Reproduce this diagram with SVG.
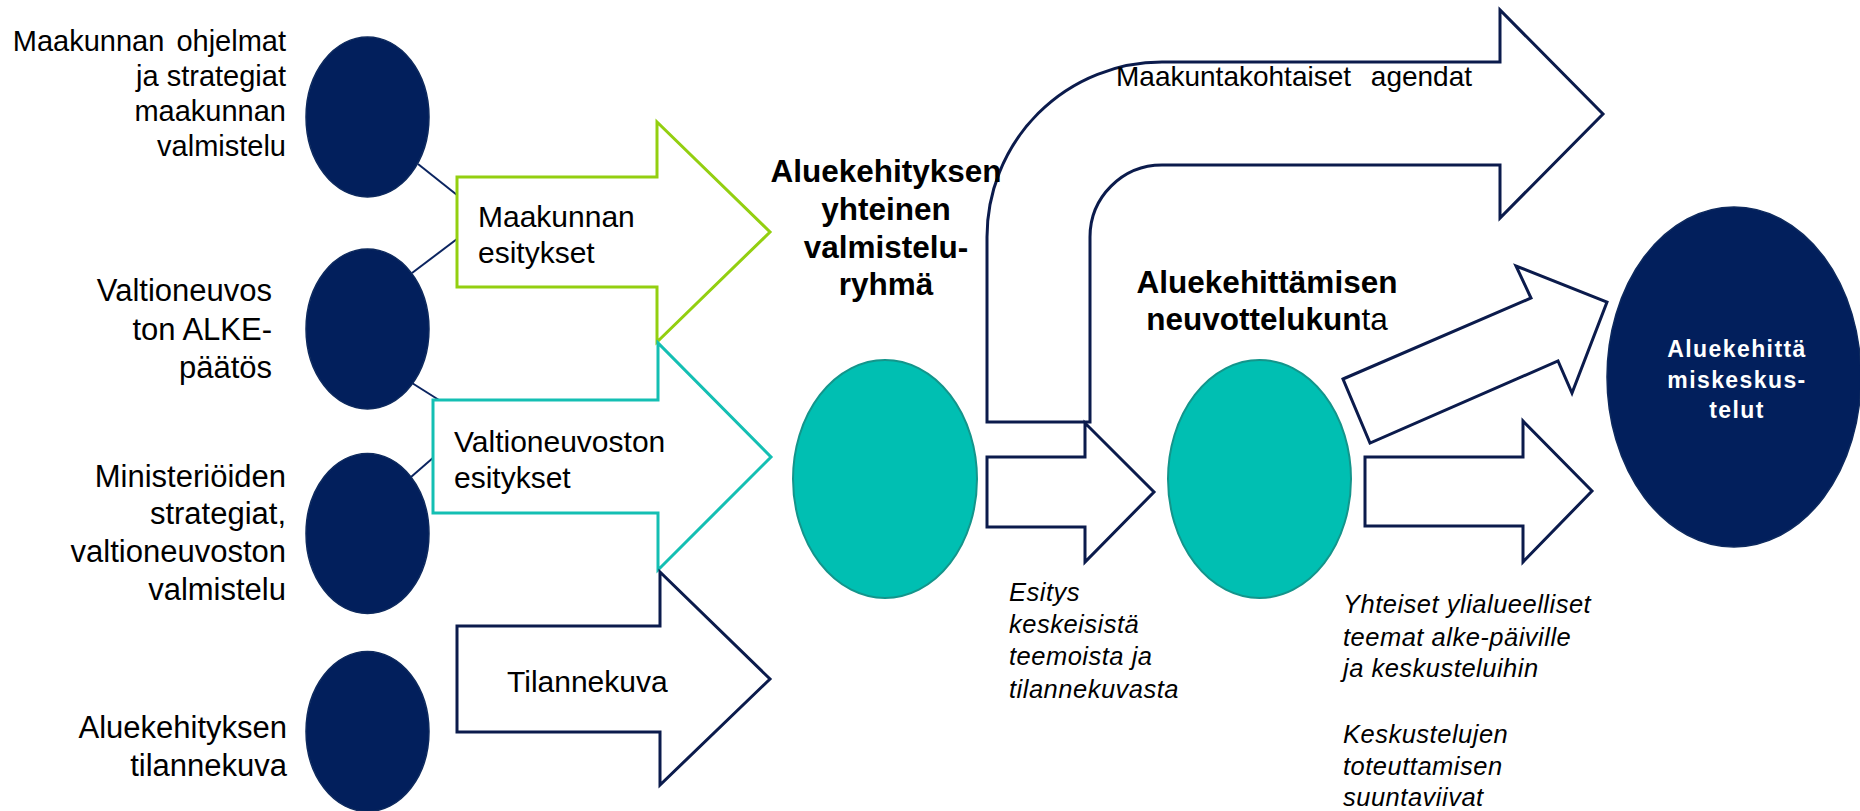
<svg xmlns="http://www.w3.org/2000/svg" width="1860" height="811" viewBox="0 0 1860 811">
<style>
text{font-family:"Liberation Sans",Arial,sans-serif;fill:#000}
.lt{font-size:31px;text-anchor:end}
.at{font-size:30px}
.bd{font-size:31.5px;font-weight:bold;text-anchor:middle}
.it{font-size:25.5px;font-style:italic;letter-spacing:0.5px}
.wt{font-size:23px;font-weight:bold;fill:#fff;text-anchor:middle;letter-spacing:1.4px}
.nv{fill:#021f5c;stroke:#0e2a5e;stroke-width:1.5}
.tl{fill:#00bfb2;stroke:#13958b;stroke-width:2}
.ar{fill:#fff;stroke-width:3;stroke-linejoin:miter}
.an{stroke:#0b1b4c}
.ln{stroke:#0b2460;stroke-width:2;fill:none}
</style>
<g id="connectors">
<line class="ln" x1="418" y1="164" x2="457" y2="195"/>
<line class="ln" x1="412" y1="273" x2="457" y2="239"/>
<line class="ln" x1="412" y1="383" x2="458" y2="412"/>
<line class="ln" x1="411" y1="477" x2="434" y2="457"/>
</g>
<g id="arrow-maakunnan">
<polygon class="ar" stroke="#93cf10" points="457,177 657,177 657,122 770,232 657,342 657,287 457,287"/>
<text class="at" x="478" y="227">Maakunnan</text>
<text class="at" x="478" y="263">esitykset</text>
</g>
<g id="arrow-valtioneuvoston">
<polygon class="ar" stroke="#14bfb3" points="433,400 658,400 658,343 771,457 658,570 658,513 433,513"/>
<text class="at" x="454" y="452">Valtioneuvoston</text>
<text class="at" x="454" y="488">esitykset</text>
</g>
<g id="arrow-tilannekuva">
<polygon class="ar an" points="457,626 660,626 660,572 770,679 660,785 660,732 457,732"/>
<text class="at" x="507" y="692">Tilannekuva</text>
</g>
<g id="n1">
<ellipse class="nv" cx="367.5" cy="117" rx="61.5" ry="80"/>
<text style="font-size:29px;text-anchor:end" x="286" y="51" word-spacing="4">Maakunnan ohjelmat</text>
<text style="font-size:29px;text-anchor:end" x="286" y="86">ja strategiat</text>
<text style="font-size:29px;text-anchor:end" x="286" y="121">maakunnan</text>
<text style="font-size:29px;text-anchor:end" x="286" y="156">valmistelu</text>
</g>
<g id="n2">
<ellipse class="nv" cx="367.5" cy="329" rx="61.5" ry="80"/>
<text class="lt" x="272" y="301">Valtioneuvos</text>
<text class="lt" x="272" y="340">ton ALKE-</text>
<text class="lt" x="272" y="378">päätös</text>
</g>
<g id="n3">
<ellipse class="nv" cx="367.5" cy="533.5" rx="61.5" ry="80"/>
<text class="lt" x="286" y="487">Ministeriöiden</text>
<text class="lt" x="286" y="524">strategiat,</text>
<text class="lt" x="286" y="562">valtioneuvoston</text>
<text class="lt" x="286" y="600">valmistelu</text>
</g>
<g id="n4">
<ellipse class="nv" cx="367.5" cy="731.5" rx="61.5" ry="80"/>
<text class="lt" x="287" y="738">Aluekehityksen</text>
<text class="lt" x="287" y="776">tilannekuva</text>
</g>
<g id="arrow-agendat">
<path class="ar an" d="M987,422 L987,237 A175,175 0 0 1 1162,62 L1500,62 L1500,10 L1603,114 L1500,218 L1500,165 L1162,165 A72,72 0 0 0 1090,237 L1090,422 Z"/>
<text style="font-size:28px" x="1116" y="86" word-spacing="12">Maakuntakohtaiset agendat</text>
</g>
<g id="n5">
<ellipse class="tl" cx="885" cy="479" rx="92" ry="119"/>
<text class="bd" x="886" y="182">Aluekehityksen</text>
<text class="bd" x="886" y="220">yhteinen</text>
<text class="bd" x="886" y="258">valmistelu-</text>
<text class="bd" x="886" y="295">ryhmä</text>
</g>
<g id="arrow-esitys">
<polygon class="ar an" points="987,457 1085,457 1085,423 1154,492 1085,562 1085,527 987,527"/>
<text class="it" x="1009" y="601">Esitys</text>
<text class="it" x="1009" y="633">keskeisistä</text>
<text class="it" x="1009" y="665">teemoista ja</text>
<text class="it" x="1009" y="698">tilannekuvasta</text>
</g>
<g id="n6">
<ellipse class="tl" cx="1259.5" cy="479" rx="91.5" ry="119"/>
<text class="bd" x="1267" y="293">Aluekehittämisen</text>
<text class="bd" x="1267" y="330">neuvottelukun<tspan font-weight="normal">ta</tspan></text>
</g>
<g id="arrow-diagonal">
<polygon class="ar an" points="1343,379 1531,298 1516,266 1607,302 1572,393 1558,361 1370,443"/>
</g>
<g id="arrow-right">
<polygon class="ar an" points="1365,457 1523,457 1523,421 1592,491 1523,562 1523,526 1365,526"/>
<text class="it" x="1343" y="613">Yhteiset ylialueelliset</text>
<text class="it" x="1343" y="646">teemat alke-päiville</text>
<text class="it" x="1343" y="677">ja keskusteluihin</text>
<text class="it" x="1343" y="743">Keskustelujen</text>
<text class="it" x="1343" y="775">toteuttamisen</text>
<text class="it" x="1343" y="806">suuntaviivat</text>
</g>
<g id="n7">
<ellipse class="nv" cx="1734" cy="377" rx="127" ry="170"/>
<text class="wt" x="1737" y="357">Aluekehittä</text>
<text class="wt" x="1737" y="388">miskeskus-</text>
<text class="wt" x="1737" y="418">telut</text>
</g>
</svg>
